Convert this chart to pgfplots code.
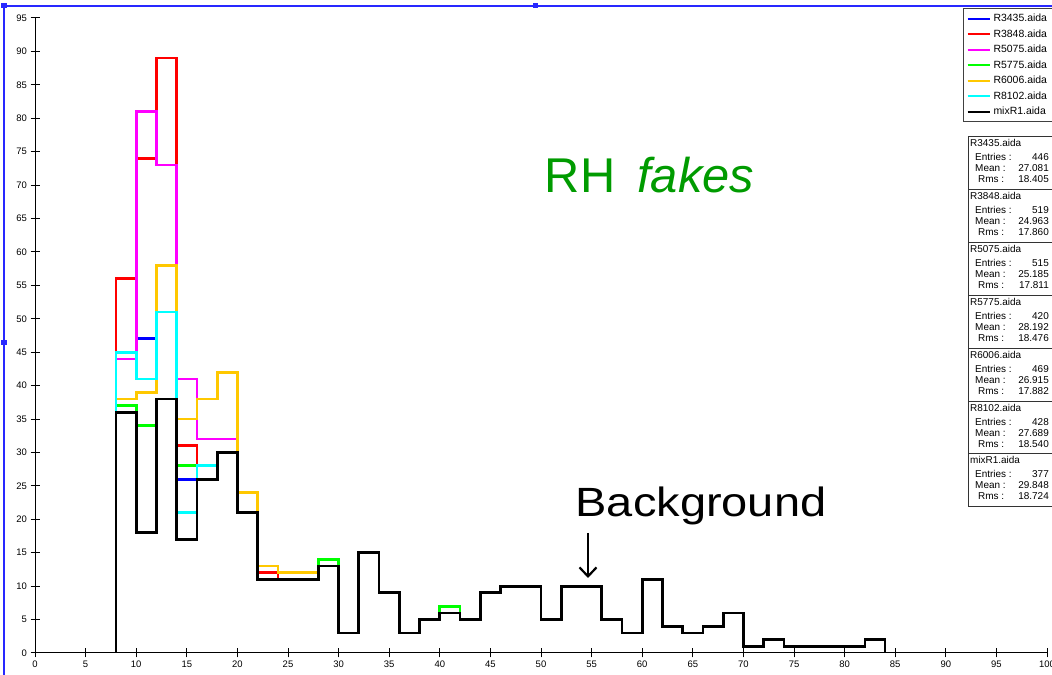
\documentclass[border=0pt]{standalone}
\usepackage{fontspec}
\setmainfont{Liberation Sans}
\usepackage{pgfplots}
\pgfplotsset{compat=1.18}
\usetikzlibrary{arrows.meta}
\definecolor{hblue}{RGB}{0,0,255}
\definecolor{hred}{RGB}{255,0,0}
\definecolor{hmag}{RGB}{255,0,255}
\definecolor{hgreen}{RGB}{0,255,0}
\definecolor{horange}{RGB}{255,200,0}
\definecolor{hcyan}{RGB}{0,255,255}
\definecolor{txtgreen}{RGB}{0,155,0}
\definecolor{selblue}{RGB}{40,40,255}
\begin{document}
\begin{tikzpicture}[x=1bp,y=1bp]
\useasboundingbox (0,0) rectangle (1052,675);
\begin{axis}[
  at={(35bp,22bp)}, anchor=south west,
  scale only axis, width=1012bp, height=635bp,
  xmin=0, xmax=100, ymin=0, ymax=95,
  axis x line*=bottom, axis y line*=left,
  axis line style={-, line width=1bp},
  xtick={0,5,...,100}, ytick={0,5,...,95},
  tick align=center, major tick length=9bp,
  tick style={line width=1bp, black},
  ticklabel style={font=\fontsize{9.5}{10}\selectfont},
  /pgf/number format/assume math mode=true,
  clip=false,
  every axis plot/.append style={const plot mark left, line width=2.7bp, line join=miter, mark=none},
  legend style={at={(0.917,1.0157)}, anchor=north west, draw=black!75, line width=1bp, fill=white,
    font=\fontsize{10.5}{11}\selectfont, inner xsep=3bp, inner ysep=5bp, row sep=5.5bp,
    nodes={inner sep=0bp, text height=8bp, text depth=2bp},
    /tikz/every odd column/.append style={column sep=3bp}},
  legend cell align=left,
  legend image code/.code={\draw[#1, line width=2bp] (0bp,0bp) -- (22bp,0bp);},
]
% R3435
\addplot[hblue] coordinates {(8,0) (8,45) (10,47) (12,51) (14,26) (16,28) (18,30) (20,24) (22,13) (24,12) (26,12) (28,13) (30,3) (32,15) (34,9) (36,3) (38,5) (40,6) (42,5) (44,9) (46,10) (48,10) (50,5) (52,10) (54,10) (56,5) (58,3) (60,11) (62,4) (64,3) (66,4) (68,6) (70,1) (72,2) (74,1) (76,1) (78,1) (80,1) (82,2) (84,2) (84,0)};
\addlegendentry{\makebox[62bp][l]{R3435.aida}}
% R3848
\addplot[hred] coordinates {(8,0) (8,56) (10,74) (12,89) (14,31) (16,26) (18,30) (20,21) (22,12) (24,11) (26,11) (28,13) (30,3) (32,15) (34,9) (36,3) (38,5) (40,6) (42,5) (44,9) (46,10) (48,10) (50,5) (52,10) (54,10) (56,5) (58,3) (60,11) (62,4) (64,3) (66,4) (68,6) (70,1) (72,2) (74,1) (76,1) (78,1) (80,1) (82,2) (84,2) (84,0)};
\addlegendentry{\makebox[62bp][l]{R3848.aida}}
% R5075
\addplot[hmag] coordinates {(8,0) (8,44) (10,81) (12,73) (14,41) (16,32) (18,32) (20,21) (22,11) (24,11) (26,11) (28,13) (30,3) (32,15) (34,9) (36,3) (38,5) (40,6) (42,5) (44,9) (46,10) (48,10) (50,5) (52,10) (54,10) (56,5) (58,3) (60,11) (62,4) (64,3) (66,4) (68,6) (70,1) (72,2) (74,1) (76,1) (78,1) (80,1) (82,2) (84,2) (84,0)};
\addlegendentry{\makebox[62bp][l]{R5075.aida}}
% R5775
\addplot[hgreen] coordinates {(8,0) (8,37) (10,34) (12,38) (14,28) (16,28) (18,30) (20,24) (22,13) (24,12) (26,12) (28,14) (30,3) (32,15) (34,9) (36,3) (38,5) (40,7) (42,5) (44,9) (46,10) (48,10) (50,5) (52,10) (54,10) (56,5) (58,3) (60,11) (62,4) (64,3) (66,4) (68,6) (70,1) (72,2) (74,1) (76,1) (78,1) (80,1) (82,2) (84,2) (84,0)};
\addlegendentry{\makebox[62bp][l]{R5775.aida}}
% R6006
\addplot[horange] coordinates {(8,0) (8,38) (10,39) (12,58) (14,35) (16,38) (18,42) (20,24) (22,13) (24,12) (26,12) (28,13) (30,3) (32,15) (34,9) (36,3) (38,5) (40,6) (42,5) (44,9) (46,10) (48,10) (50,5) (52,10) (54,10) (56,5) (58,3) (60,11) (62,4) (64,3) (66,4) (68,6) (70,1) (72,2) (74,1) (76,1) (78,1) (80,1) (82,2) (84,2) (84,0)};
\addlegendentry{\makebox[62bp][l]{R6006.aida}}
% R8102
\addplot[hcyan] coordinates {(8,0) (8,45) (10,41) (12,51) (14,21) (16,28) (18,30) (20,21) (22,11) (24,11) (26,11) (28,13) (30,3) (32,15) (34,9) (36,3) (38,5) (40,6) (42,5) (44,9) (46,10) (48,10) (50,5) (52,10) (54,10) (56,5) (58,3) (60,11) (62,4) (64,3) (66,4) (68,6) (70,1) (72,2) (74,1) (76,1) (78,1) (80,1) (82,2) (84,2) (84,0)};
\addlegendentry{\makebox[62bp][l]{R8102.aida}}
% mixR1
\addplot[black] coordinates {(8,0) (8,36) (10,18) (12,38) (14,17) (16,26) (18,30) (20,21) (22,11) (24,11) (26,11) (28,13) (30,3) (32,15) (34,9) (36,3) (38,5) (40,6) (42,5) (44,9) (46,10) (48,10) (50,5) (52,10) (54,10) (56,5) (58,3) (60,11) (62,4) (64,3) (66,4) (68,6) (70,1) (72,2) (74,1) (76,1) (78,1) (80,1) (82,2) (84,2) (84,0)};
\addlegendentry{\makebox[62bp][l]{mixR1.aida}}
\end{axis}
% selection frame
\draw[selblue, line width=1.5bp] (4,0) -- (4,669) -- (1060,669);
\fill[selblue] (1.5,666.5) rectangle (6.5,671.5);
\fill[selblue] (532.5,666.5) rectangle (537.5,671.5);
\fill[selblue] (1.5,329.5) rectangle (6.5,334.5);
% annotations
\node[anchor=base, text=txtgreen, font=\fontsize{49}{55}\selectfont, inner sep=0] at (649.5,482) {RH\hspace{22bp}\textit{fakes}};
\node[anchor=base, font=\fontsize{41}{46}\selectfont, inner sep=0, xscale=1.15] at (701,158) {Background};
\draw[line width=2.2bp, -{Straight Barb[length=9bp,width=17bp]}] (588,142) -- (588,97);
% statistics boxes
\foreach \i/\n/\e/\m/\r in {0/R3435.aida/446/27.081/18.405, 1/R3848.aida/519/24.963/17.860, 2/R5075.aida/515/25.185/17.811, 3/R5775.aida/420/28.192/18.476, 4/R6006.aida/469/26.915/17.882, 5/R8102.aida/428/27.689/18.540, 6/mixR1.aida/377/29.848/18.724}{
  \begin{scope}[yshift={-53*\i}, font=\fontsize{10}{11}\selectfont]
    \draw[black!80, line width=1bp, fill=white] (968,538) rectangle (1062,485);
    \node[anchor=base west, inner sep=0] at (970,528) {\n};
    \node[anchor=base west, inner sep=0] at (975,514) {Entries :};
    \node[anchor=base east, inner sep=0] at (1049,514) {\e};
    \node[anchor=base west, inner sep=0] at (975,503) {Mean :};
    \node[anchor=base east, inner sep=0] at (1049,503) {\m};
    \node[anchor=base west, inner sep=0] at (978,492) {Rms :};
    \node[anchor=base east, inner sep=0] at (1049,492) {\r};
  \end{scope}
}
\end{tikzpicture}
\end{document}
